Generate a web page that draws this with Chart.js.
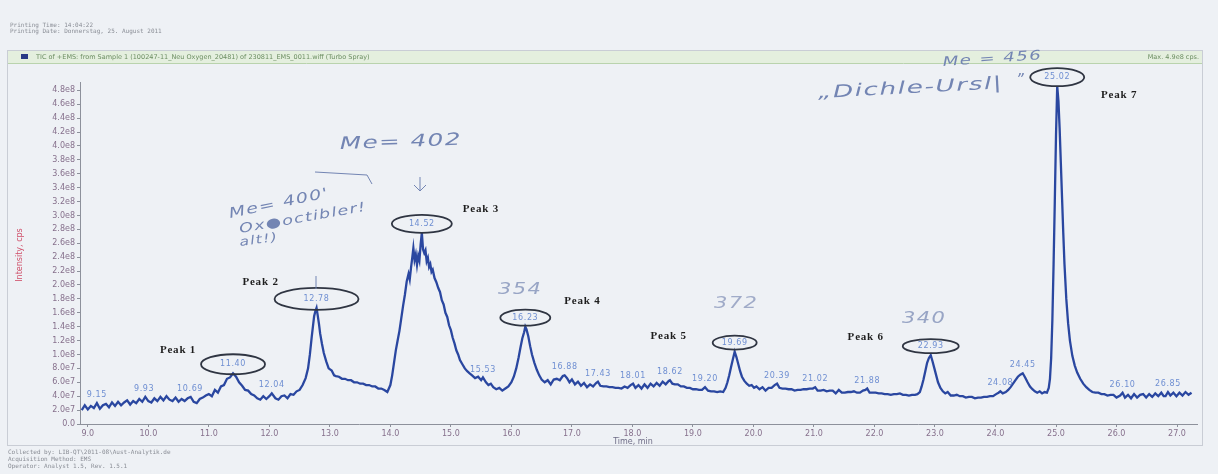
<!DOCTYPE html>
<html>
<head>
<meta charset="utf-8">
<script src="https://cdn.jsdelivr.net/npm/chart.js@4.4.1/dist/chart.umd.min.js"></script>
<style>
  html, body { margin: 0; padding: 0; background: #eef1f5; }
  canvas { display: block; }
</style>
</head>
<body>
<canvas id="tic" width="1218" height="474"></canvas>
<script>
// Retention time, min
const timeMin = [
  8.90,8.95,9.00,9.05,9.10,9.15,9.20,9.25,9.30,9.35,9.40,9.45,9.50,9.55,9.60,9.65,9.70,9.75,9.80,9.85,9.90,9.95,10.00,10.05,10.10,10.15,10.20,10.25,10.30,10.35,10.40,10.45,10.50,10.55,10.60,10.65,10.70,10.75,10.80,10.85,10.90,10.95,11.00,
  11.05,11.10,11.15,11.20,11.25,11.30,11.35,11.40,11.45,11.50,11.55,11.60,11.65,11.70,11.75,11.80,11.85,11.90,11.95,12.00,12.04,12.10,12.15,12.20,12.25,12.30,12.35,12.40,12.45,12.50,12.55,12.60,
  12.64,12.67,12.70,12.72,12.74,12.76,12.78,12.80,12.82,12.84,12.87,12.90,12.94,12.98,
  13.03,13.07,13.10,13.15,13.20,13.25,13.30,13.35,13.40,13.45,13.50,13.55,13.60,13.65,13.70,13.75,13.80,13.85,13.90,13.95,14.00,
  14.03,14.06,14.09,14.12,14.15,14.18,14.21,14.24,14.27,14.30,14.32,14.34,14.36,14.38,14.40,14.42,14.44,14.46,14.48,14.50,
  14.52,14.54,14.56,14.58,14.60,14.62,14.64,14.66,14.68,14.70,14.73,14.76,14.79,14.82,14.85,14.88,14.91,14.94,14.97,15.00,
  15.03,15.06,15.09,15.12,15.15,15.19,15.23,15.27,15.31,15.35,15.40,
  15.45,15.50,15.53,15.58,15.62,15.66,15.70,15.75,15.80,15.85,15.90,15.95,16.00,
  16.04,16.08,16.12,16.15,16.18,16.21,16.23,16.25,16.28,16.31,16.34,16.38,16.42,16.46,16.50,
  16.55,16.60,16.65,16.70,16.75,16.80,16.85,16.88,16.92,16.96,17.00,17.05,17.10,17.15,17.20,17.25,17.30,17.35,17.40,17.43,
  17.47,17.52,17.57,17.62,17.67,17.72,17.77,17.82,17.87,17.92,17.97,18.01,18.05,18.10,18.15,18.20,18.25,18.30,18.35,18.40,
  18.45,18.50,18.55,18.60,18.62,18.66,18.70,18.75,18.80,18.85,18.90,18.95,19.00,19.05,19.10,19.15,19.20,19.25,19.30,19.35,19.40,19.45,19.50,
  19.54,19.57,19.60,19.63,19.66,19.69,19.72,19.75,19.78,19.81,19.85,19.89,19.93,19.97,20.01,20.05,20.10,
  20.15,20.20,20.25,20.30,20.35,20.39,20.43,20.48,20.53,20.58,20.63,20.68,20.73,20.78,20.83,20.88,20.93,20.98,21.02,21.06,
  21.11,21.16,21.21,21.26,21.31,21.36,21.41,21.46,21.51,21.56,21.61,21.66,21.71,21.76,21.81,21.85,21.88,21.92,21.97,22.02,
  22.07,22.12,22.17,22.22,22.27,22.32,22.37,22.42,22.47,22.52,22.57,22.62,22.67,22.71,
  22.75,22.78,22.81,22.84,22.87,22.90,22.93,22.96,22.99,23.02,23.05,23.09,23.13,23.17,23.21,
  23.26,23.31,23.36,23.41,23.46,23.51,23.56,23.61,23.66,23.71,23.76,23.81,23.86,23.91,23.96,24.01,24.05,24.08,24.12,24.17,
  24.21,24.25,24.29,24.33,24.37,24.41,24.45,24.49,24.53,24.57,24.61,24.65,24.69,24.73,24.77,24.81,24.85,24.88,
  24.90,24.92,24.94,24.96,24.98,25.00,25.02,25.04,25.06,25.08,25.10,25.12,25.14,25.17,25.20,25.23,25.27,25.31,25.35,25.40,
  25.45,25.50,25.55,25.60,
  25.65,25.70,25.75,25.80,25.85,25.90,25.95,26.00,26.06,26.10,26.14,26.19,26.24,26.29,26.34,26.39,26.44,26.49,26.54,26.59,
  26.64,26.69,26.74,26.78,26.81,26.85,26.89,26.94,26.99,27.04,27.09,27.14,27.19,27.24
];

// Total ion current, in units of 1e7 cps
const intensityE7 = [
  2.0,2.7,2.1,2.6,2.3,3.0,2.2,2.7,2.9,2.4,3.1,2.6,3.2,2.7,3.1,3.4,2.8,3.3,3.0,3.6,3.2,3.9,3.3,3.1,3.7,3.3,3.9,3.4,4.0,3.5,3.3,3.8,3.2,3.6,3.3,3.7,3.9,3.2,3.0,3.6,3.8,4.1,4.3,
  4.0,4.9,4.5,5.4,5.6,6.5,6.7,7.3,6.8,6.0,5.5,4.9,4.8,4.3,4.1,3.7,3.5,4.0,3.6,4.0,4.4,3.7,3.5,4.0,4.1,3.7,4.3,4.2,4.7,4.9,5.6,6.6,
  8.0,10.0,12.5,14.0,15.5,16.2,16.7,15.6,14.4,13.0,11.5,10.2,9.0,8.0,
  7.7,7.0,6.9,6.8,6.5,6.5,6.3,6.3,6.0,6.0,5.8,5.8,5.6,5.6,5.4,5.4,5.1,5.1,4.9,4.6,5.6,
  7.0,8.8,10.6,12.0,13.4,15.2,17.0,18.6,20.5,21.6,20.8,22.4,23.8,25.3,23.6,24.4,22.9,24.2,23.5,25.8,
  27.5,25.1,24.6,25.0,23.4,23.9,22.6,23.0,21.9,22.2,21.0,20.4,19.6,19.0,17.8,17.2,16.0,15.4,14.2,13.5,
  12.4,11.6,10.6,10.0,9.2,8.6,8.0,7.6,7.3,7.0,6.6,
  6.8,6.3,6.7,6.0,5.6,5.8,5.3,5.0,5.2,4.8,5.1,5.4,6.0,
  6.8,8.0,9.6,11.0,12.3,13.2,14.0,13.6,12.6,11.2,10.0,8.8,7.8,7.0,6.4,
  6.0,6.3,5.7,6.4,6.5,6.3,6.9,7.0,6.6,6.0,6.4,5.7,6.1,5.5,5.9,5.3,5.7,5.4,5.9,6.1,
  5.5,5.4,5.4,5.3,5.3,5.2,5.2,5.1,5.4,5.2,5.6,5.8,5.2,5.6,5.1,5.7,5.2,5.8,5.4,5.9,
  5.5,6.1,5.7,6.2,6.3,5.8,5.7,5.7,5.4,5.4,5.2,5.2,5.0,5.0,4.9,4.9,5.3,4.8,4.7,4.7,4.6,4.7,4.6,
  5.2,6.0,7.0,8.2,9.3,10.4,9.6,8.6,7.6,6.8,6.2,5.8,5.5,5.6,5.2,5.4,5.0,
  5.3,4.8,5.2,5.2,5.6,5.8,5.2,5.1,5.1,5.0,5.0,4.8,4.9,4.9,5.0,5.0,5.1,5.1,5.3,4.8,
  4.8,4.9,4.7,4.8,4.8,4.4,4.9,4.5,4.5,4.6,4.6,4.7,4.5,4.5,4.8,4.9,5.1,4.5,4.5,4.5,
  4.4,4.4,4.3,4.3,4.2,4.3,4.3,4.4,4.2,4.2,4.1,4.2,4.2,4.3,
  4.6,5.4,6.4,7.6,8.8,9.5,9.9,9.0,8.0,7.0,6.0,5.2,4.7,4.4,4.6,
  4.1,4.1,4.2,4.0,4.0,3.8,3.9,3.9,3.7,3.8,3.8,3.9,3.9,4.0,4.0,4.3,4.5,4.7,4.4,4.6,
  4.9,5.3,5.8,6.3,6.8,7.1,7.3,6.7,6.0,5.4,5.0,4.7,4.5,4.7,4.4,4.6,4.5,5.2,
  6.5,9.5,15.0,23.0,32.0,41.5,48.6,46.5,42.5,37.5,32.5,27.5,23.0,18.0,14.5,12.0,9.8,8.4,7.4,6.5,
  5.8,5.3,4.9,4.6,
  4.5,4.5,4.3,4.3,4.1,4.2,4.2,3.8,4.1,4.5,3.8,4.2,3.7,4.3,3.8,4.2,4.3,3.8,4.3,3.9,
  4.4,4.0,4.5,4.0,4.0,4.6,4.1,4.5,4.0,4.5,4.1,4.6,4.2,4.5
];

// Axis tick values (time in min, intensity in 1e7 cps)
const xTickValues = [9,10,11,12,13,14,15,16,17,18,19,20,21,22,23,24,25,26,27];
const yTickValues = [0,2,4,6,8,10,12,14,16,18,20,22,24,26,28,30,32,34,36,38,40,42,44,46,48];

// Retention times printed above minor peaks
const minorPeakTimes = [9.15,9.93,10.69,12.04,15.53,16.88,17.43,18.01,18.62,19.20,20.39,21.02,21.88,24.08,24.45,26.10,26.85];

// Named, circled peaks
const peakNames = ['Peak 1','Peak 2','Peak 3','Peak 4','Peak 5','Peak 6','Peak 7'];
const peakTimes = [11.40,12.78,14.52,16.23,19.69,22.93,25.02];

// Ring size and name offset for each circled peak (px)
const peakStyle = [
  { rx: 32, ry: 10, nx: -55, ny: -14 },
  { rx: 42, ry: 11, nx: -56, ny: -17 },
  { rx: 30, ry: 9,  nx: 59,  ny: -15 },
  { rx: 25, ry: 8,  nx: 57,  ny: -17 },
  { rx: 22, ry: 7,  nx: -66, ny: -7 },
  { rx: 28, ry: 7,  nx: -65, ny: -9 },
  { rx: 27, ry: 9,  nx: 62,  ny: 18 }
];

const points = timeMin.map((t, i) => ({ x: t, y: intensityE7[i] }));

function fmtIntensity(v) {
  if (v === 0) return '0.0';
  if (v < 10) return v.toFixed(1) + 'e7';
  return (v / 10).toFixed(1) + 'e8';
}

function apexPixel(chart, t) {
  let m = -Infinity;
  for (let i = 0; i < timeMin.length; i++) {
    if (Math.abs(timeMin[i] - t) <= 0.035) m = Math.max(m, intensityE7[i]);
  }
  return chart.scales.y.getPixelForValue(m);
}

const paperPlugin = {
  id: 'paper',
  beforeDraw(chart) {
    const c = chart.ctx;
    c.save();
    c.fillStyle = '#eef1f5';
    c.fillRect(0, 0, chart.width, chart.height);

    // print header
    c.fillStyle = '#8a8e96';
    c.font = '6px "DejaVu Sans Mono"';
    c.textBaseline = 'middle';
    c.textAlign = 'left';
    c.fillText('Printing Time: 14:04:22', 10, 25);
    c.fillText('Printing Date: Donnerstag, 25. August 2011', 10, 31);

    // panel frame
    c.strokeStyle = '#c9cdd5';
    c.lineWidth = 1;
    c.strokeRect(7.5, 50.5, 1195, 395);

    // title bar
    c.fillStyle = '#e4efde';
    c.fillRect(8, 51, 1194, 12);
    c.strokeStyle = '#b9d3ad';
    c.beginPath();
    c.moveTo(8, 63.5); c.lineTo(1202, 63.5);
    c.stroke();
    c.fillStyle = '#2a3a86';
    c.fillRect(21, 54, 7, 5);
    c.fillStyle = '#6c8e62';
    c.font = '6.5px "DejaVu Sans"';
    c.fillText('TIC of +EMS: from Sample 1 (100247-11_Neu Oxygen_20481) of 230811_EMS_0011.wiff (Turbo Spray)', 36, 57);
    c.textAlign = 'right';
    c.fillText('Max. 4.9e8 cps.', 1199, 57);

    // footer
    c.textAlign = 'left';
    c.fillStyle = '#8a8e96';
    c.font = '6px "DejaVu Sans Mono"';
    c.fillText('Collected by: LIB-QT\\2011-08\\Aust-Analytik.de', 8, 452);
    c.fillText('Acquisition Method: EMS', 8, 459);
    c.fillText('Operator: Analyst 1.5, Rev. 1.5.1', 8, 466);

    // axis titles
    c.fillStyle = '#cf4f69';
    c.font = '8px "DejaVu Sans"';
    c.textAlign = 'center';
    c.save();
    c.translate(20, 255);
    c.rotate(-Math.PI / 2);
    c.fillText('Intensity, cps', 0, 0);
    c.restore();
    c.fillStyle = '#6e6c86';
    c.fillText('Time, min', 633, 442);
    c.restore();
  },
  afterDatasetsDraw(chart) {
    const c = chart.ctx;
    const xs = chart.scales.x;
    c.save();
    c.textAlign = 'center';
    c.textBaseline = 'middle';
    c.letterSpacing = '0.6px';

    // retention time labels of minor peaks
    c.fillStyle = '#6f8fd2';
    c.font = '8px "DejaVu Sans"';
    minorPeakTimes.forEach(t => {
      c.fillText(t.toFixed(2), xs.getPixelForValue(t), apexPixel(chart, t) - 8);
    });

    // circled peaks with names
    peakTimes.forEach((t, i) => {
      const st = peakStyle[i];
      const px = xs.getPixelForValue(t);
      const py = apexPixel(chart, t) - 9;
      c.fillStyle = '#6f8fd2';
      c.font = '8px "DejaVu Sans"';
      c.letterSpacing = '0.6px';
      c.fillText(t.toFixed(2), px, py);
      c.strokeStyle = '#2f3542';
      c.lineWidth = 1.8;
      c.beginPath();
      c.ellipse(px, py, st.rx, st.ry, 0, 0, Math.PI * 2);
      c.stroke();
      c.fillStyle = '#1e1e1e';
      c.font = 'bold 11px "Liberation Serif"';
      c.letterSpacing = '0.8px';
      c.fillText(peakNames[i], px + st.nx, py + st.ny);
    });

    // pen notes: wide, loose pen lettering
    c.textAlign = 'left';
    c.textBaseline = 'alphabetic';
    const pen = '#7385b3';
    const note = (txt, x, y, size, ang, sx, col) => {
      c.save();
      c.translate(x, y);
      c.rotate(ang * Math.PI / 180);
      c.scale(sx, 1);
      c.fillStyle = col || pen;
      c.letterSpacing = '1px';
      c.font = 'italic 200 ' + size + 'px "DejaVu Sans"';
      c.fillText(txt, 0, 0);
      c.restore();
    };
    note('Me= 402', 340, 149, 17, -2, 1.45);
    note('Me= 400\'', 230, 218, 14, -12, 1.35);
    note('Ox\u25CFoctibler!', 240, 233, 13, -10, 1.35);
    note('alt!)', 240, 246, 12, -8, 1.3);
    note('354', 498, 294, 15, 0, 1.4, '#98a5c5');
    note('372', 714, 308, 15, 0, 1.4, '#a0abc8');
    note('340', 902, 323, 15, 0, 1.4, '#98a5c5');
    note('Me = 456', 943, 66, 13, -4, 1.4);
    note('\u201EDichle-Ursl|', 818, 98, 17, -3, 1.55);
    note('\u201D', 1016, 85, 15, 0, 1);

    c.strokeStyle = pen;
    c.lineWidth = 1;
    c.beginPath();
    c.moveTo(315, 172); c.lineTo(367, 175); c.lineTo(372, 184);
    c.moveTo(420, 177); c.lineTo(420, 191);
    c.moveTo(414, 185); c.lineTo(420, 191); c.lineTo(426, 185);
    c.moveTo(316, 276); c.lineTo(316, 289);
    c.stroke();
    c.restore();
  }
};

new Chart(document.getElementById('tic'), {
  type: 'line',
  data: {
    datasets: [{
      data: points,
      borderColor: '#2a47a0',
      borderWidth: 2.3,
      pointRadius: 0,
      tension: 0,
      clip: false
    }]
  },
  options: {
    responsive: false,
    animation: false,
    devicePixelRatio: 1,
    parsing: false,
    layout: { padding: { left: 0, top: 82, right: 21, bottom: 0 } },
    plugins: { legend: { display: false }, tooltip: { enabled: false } },
    scales: {
      x: {
        type: 'linear',
        min: 8.871,
        max: 27.33,
        afterFit(s) { s.height = 50; },
        afterBuildTicks(s) { s.ticks = xTickValues.map(v => ({ value: v })); },
        grid: { drawOnChartArea: false, drawTicks: true, tickLength: 3, color: '#8d919b' },
        border: { color: '#8d919b', width: 1 },
        ticks: {
          autoSkip: false, maxRotation: 0, padding: 2,
          color: '#86708c',
          font: { size: 8, family: 'DejaVu Sans' },
          callback: v => Number(v).toFixed(1)
        }
      },
      y: {
        type: 'linear',
        min: 0,
        max: 49.2,
        afterFit(s) { s.width = 80; },
        afterBuildTicks(s) { s.ticks = yTickValues.map(v => ({ value: v })); },
        grid: { drawOnChartArea: false, drawTicks: true, tickLength: 3, color: '#8d919b' },
        border: { color: '#8d919b', width: 1 },
        ticks: {
          padding: 2,
          color: '#86708c',
          font: { size: 8, family: 'DejaVu Sans' },
          callback: v => fmtIntensity(v)
        }
      }
    }
  },
  plugins: [paperPlugin]
});
</script>
</body>
</html>
